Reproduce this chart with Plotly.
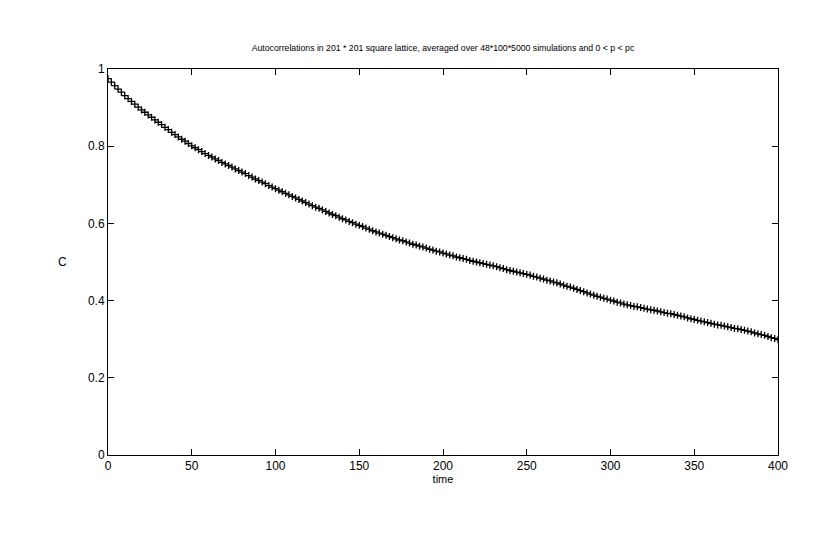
import plotly.graph_objects as go

time = list(range(0, 401, 2))
C = [
    0.975, 0.966, 0.957, 0.948, 0.940, 0.931,
    0.923, 0.916, 0.909, 0.901, 0.894,
    0.888, 0.881, 0.875, 0.868, 0.862,
    0.856, 0.849, 0.843, 0.836, 0.830,
    0.824, 0.818, 0.813, 0.807, 0.801,
    0.796, 0.791, 0.786, 0.781, 0.776,
    0.772, 0.767, 0.763, 0.758, 0.754,
    0.750, 0.746, 0.741, 0.737, 0.733,
    0.729, 0.724, 0.720, 0.715, 0.711,
    0.707, 0.703, 0.698, 0.694, 0.690,
    0.686, 0.682, 0.678, 0.674, 0.670,
    0.666, 0.662, 0.658, 0.654, 0.650,
    0.646, 0.642, 0.639, 0.635, 0.631,
    0.627, 0.623, 0.620, 0.616, 0.612,
    0.609, 0.605, 0.602, 0.598, 0.595,
    0.592, 0.588, 0.585, 0.581, 0.578,
    0.575, 0.572, 0.569, 0.566, 0.563,
    0.560, 0.557, 0.555, 0.552, 0.549,
    0.546, 0.544, 0.541, 0.539, 0.536,
    0.533, 0.531, 0.528, 0.526, 0.523,
    0.521, 0.518, 0.516, 0.513, 0.511,
    0.509, 0.507, 0.504, 0.502, 0.500,
    0.498, 0.496, 0.494, 0.492, 0.490,
    0.488, 0.485, 0.483, 0.480, 0.478,
    0.476, 0.474, 0.472, 0.470, 0.468,
    0.466, 0.463, 0.461, 0.458, 0.456,
    0.453, 0.451, 0.448, 0.446, 0.443,
    0.440, 0.437, 0.435, 0.432, 0.429,
    0.426, 0.423, 0.420, 0.417, 0.414,
    0.411, 0.409, 0.406, 0.404, 0.401,
    0.399, 0.396, 0.394, 0.391, 0.389,
    0.387, 0.385, 0.384, 0.382, 0.380,
    0.378, 0.376, 0.375, 0.373, 0.371,
    0.369, 0.367, 0.366, 0.364, 0.362,
    0.360, 0.358, 0.355, 0.353, 0.351,
    0.349, 0.347, 0.345, 0.343, 0.341,
    0.339, 0.337, 0.336, 0.334, 0.332,
    0.330, 0.328, 0.327, 0.325, 0.323,
    0.321, 0.319, 0.316, 0.314, 0.312,
    0.310, 0.307, 0.304, 0.302, 0.299,
]

x_ticks = [0, 50, 100, 150, 200, 250, 300, 350, 400]
y_ticks = [0, 0.2, 0.4, 0.6, 0.8, 1]
y_tick_labels = ["0", "0.2", "0.4", "0.6", "0.8", "1"]

title_text = "Autocorrelations in 201 * 201 square lattice, averaged over 48*100*5000 simulations and 0 < p < pc"

font = dict(family="Liberation Sans, Arial, sans-serif", size=12, color="black")
title_font = dict(family="Liberation Sans, Arial, sans-serif", size=8.7, color="black")

fig = go.Figure()
fig.add_trace(go.Scatter(
    x=time, y=C, mode="markers",
    marker=dict(symbol="cross-thin", size=5, line=dict(color="black", width=1.3)),
    showlegend=False,
))

axis_common = dict(
    showgrid=False, zeroline=False, showline=True, linecolor="black", linewidth=1,
    mirror="allticks", ticks="inside", ticklen=6, tickcolor="black", tickwidth=1,
    tickfont=font,
)

# page body has an 8px margin, so plot area offsets account for it
L, T = 100, 61
R, B = 47, 98
fig.update_layout(
    width=817, height=545,
    margin=dict(l=L, r=R, t=T, b=B),
    paper_bgcolor="white", plot_bgcolor="white",
    font=font,
    title=dict(text=title_text, x=(L + (817 - R)) / 2 / 817, xanchor="center",
               y=1 - 40 / 545, yanchor="middle", font=title_font),
    xaxis=dict(range=[0, 400], tickvals=x_ticks, ticktext=[str(v) for v in x_ticks],
               title=dict(text="time", font=dict(family=font["family"], size=11, color="black"), standoff=2),
               **axis_common),
    yaxis=dict(range=[0, 1], tickvals=y_ticks, ticktext=y_tick_labels, **axis_common),
    annotations=[dict(text="C", xref="paper", yref="paper", x=-46 / 670, y=0.5,
                      xanchor="center", yanchor="middle", showarrow=False,
                      font=dict(family=font["family"], size=12, color="black"))],
)

fig.write_html("out.html")
